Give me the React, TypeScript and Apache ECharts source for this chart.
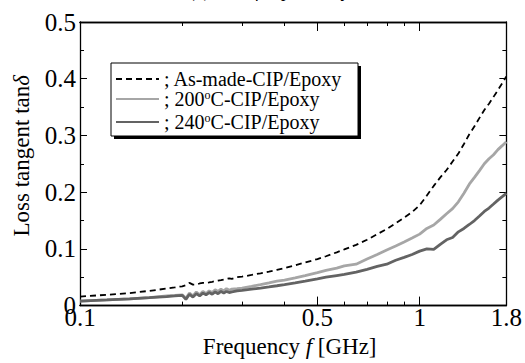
import React, { useEffect, useRef } from "react";
import * as echarts from "echarts";

const FREQ = [0.1, 0.12, 0.14, 0.16, 0.18, 0.19, 0.2, 0.205, 0.21, 0.215, 0.22, 0.225, 0.23, 0.235, 0.24, 0.245, 0.25, 0.255, 0.26, 0.265, 0.27, 0.275, 0.28, 0.29, 0.3, 0.32, 0.34, 0.36, 0.38, 0.4, 0.43, 0.46, 0.5, 0.53, 0.57, 0.6, 0.65, 0.7, 0.75, 0.8, 0.85, 0.9, 0.95, 1.0, 1.05, 1.1, 1.15, 1.2, 1.25, 1.3, 1.35, 1.4, 1.45, 1.5, 1.55, 1.6, 1.65, 1.7, 1.75, 1.8];

const AS_MADE = [0.016, 0.019, 0.022, 0.026, 0.030, 0.032, 0.034, 0.036, 0.040, 0.037, 0.037, 0.039, 0.040, 0.040, 0.041, 0.042, 0.043, 0.044, 0.045, 0.046, 0.047, 0.048, 0.047, 0.050, 0.051, 0.054, 0.057, 0.060, 0.063, 0.066, 0.071, 0.076, 0.082, 0.087, 0.094, 0.099, 0.107, 0.116, 0.126, 0.135, 0.145, 0.155, 0.165, 0.177, 0.194, 0.211, 0.226, 0.239, 0.254, 0.268, 0.285, 0.302, 0.316, 0.331, 0.345, 0.356, 0.368, 0.380, 0.392, 0.404];

const C200 = [0.008, 0.010, 0.012, 0.014, 0.017, 0.018, 0.019, 0.013, 0.022, 0.017, 0.024, 0.019, 0.025, 0.021, 0.026, 0.023, 0.028, 0.025, 0.029, 0.026, 0.030, 0.027, 0.029, 0.030, 0.031, 0.034, 0.037, 0.040, 0.043, 0.045, 0.049, 0.053, 0.058, 0.062, 0.066, 0.070, 0.073, 0.082, 0.090, 0.098, 0.105, 0.112, 0.119, 0.126, 0.136, 0.142, 0.152, 0.162, 0.171, 0.183, 0.198, 0.214, 0.226, 0.238, 0.250, 0.259, 0.266, 0.275, 0.282, 0.289];

const C240 = [0.008, 0.010, 0.012, 0.014, 0.016, 0.017, 0.018, 0.011, 0.020, 0.015, 0.021, 0.017, 0.022, 0.019, 0.023, 0.020, 0.024, 0.021, 0.025, 0.022, 0.025, 0.023, 0.024, 0.026, 0.027, 0.029, 0.031, 0.033, 0.035, 0.037, 0.040, 0.043, 0.047, 0.050, 0.053, 0.055, 0.059, 0.064, 0.069, 0.073, 0.080, 0.085, 0.090, 0.096, 0.100, 0.099, 0.108, 0.116, 0.120, 0.130, 0.136, 0.143, 0.150, 0.158, 0.166, 0.172, 0.179, 0.186, 0.192, 0.198];

const SERIES_NAMES = ["As-made-CIP/Epoxy", "200°C-CIP/Epoxy", "240°C-CIP/Epoxy"];
const X_LABELS = [0.1, 0.5, 1, 1.8];
const X_MAJOR = [0.5, 1];
const X_MINOR = [0.2, 0.3, 0.4, 0.6, 0.7, 0.8, 0.9];
const X_MIN = 0.1;
const X_MAX = 1.8;
const Y_MIN = 0;
const Y_MAX = 0.5;
const Y_STEP = 0.1;

const FONT = "'Liberation Serif', 'Times New Roman', serif";
const lg = (v: number) => Math.log10(v);

export default function App() {
  const ref = useRef<HTMLDivElement>(null);
  useEffect(() => {
    if (!ref.current) return;
    const chart = echarts.init(ref.current, null, { renderer: "svg" });
    const toPts = (vals: number[]) => FREQ.map((f, i) => [lg(f), vals[i]]);
    const lineColor = "#000";
    const baseX = {
      type: "value",
      min: lg(X_MIN),
      max: lg(X_MAX),
      splitLine: { show: false },
      axisLine: { show: true, onZero: false, lineStyle: { color: lineColor, width: 1.3 } },
    };
    const xAxes = [
      {
        ...baseX,
        position: "bottom",
        name: "Frequency {i|f} [GHz]",
        nameLocation: "middle",
        nameGap: 29,
        nameTextStyle: {
          fontFamily: FONT, fontSize: 23, color: "#000", padding: [0, 7, 0, 0],
          rich: { i: { fontFamily: FONT, fontSize: 23, fontStyle: "italic", color: "#000" } },
        },
        axisTick: { show: true, inside: true, length: 9, customValues: X_MAJOR.map(lg), lineStyle: { color: lineColor, width: 1 } },
        axisLabel: {
          show: true, customValues: X_LABELS.map(lg), margin: 1,
          fontFamily: FONT, fontSize: 25, color: "#000", lineHeight: 22,
          formatter: (v: number) => String(Math.round(Math.pow(10, v) * 10) / 10),
        },
      },
      {
        ...baseX,
        position: "bottom",
        axisTick: { show: true, inside: true, length: 4, customValues: X_MINOR.map(lg), lineStyle: { color: lineColor, width: 1 } },
        axisLabel: { show: false },
      },
      {
        ...baseX,
        position: "top",
        axisTick: { show: true, inside: true, length: 9, customValues: X_MAJOR.map(lg), lineStyle: { color: lineColor, width: 1 } },
        axisLabel: { show: false },
      },
      {
        ...baseX,
        position: "top",
        axisTick: { show: true, inside: true, length: 4, customValues: X_MINOR.map(lg), lineStyle: { color: lineColor, width: 1 } },
        axisLabel: { show: false },
      },
    ];
    const baseY = {
      type: "value",
      min: Y_MIN,
      max: Y_MAX,
      interval: Y_STEP,
      splitLine: { show: false },
      axisLine: { show: true, onZero: false, lineStyle: { color: lineColor, width: 1.3 } },
      axisTick: { show: true, inside: true, length: 7, lineStyle: { color: lineColor, width: 1 } },
      minorTick: { show: true, splitNumber: 2, length: 4, lineStyle: { color: lineColor, width: 1 } },
    };
    const option = {
      animation: false,
      backgroundColor: "#fff",
      grid: { left: 80, right: 14, top: 22, bottom: 55, containLabel: false },
      graphic: [
        { type: "text", left: 190, top: -18, style: { text: "(b) tanδ, f dependency", font: `italic 18px ${FONT}`, fill: "#000" } },
        { type: "rect", shape: { x: 114, y: 66, width: 247, height: 73 }, style: { fill: "#000" }, z: 5 },
        { type: "rect", shape: { x: 111, y: 63, width: 247, height: 73 }, style: { fill: "#fff", stroke: "#000", lineWidth: 1 }, z: 6 },
      ],
      legend: {
        orient: "vertical",
        left: 115,
        top: 69,
        z: 10,
        itemWidth: 43,
        itemHeight: 12,
        itemGap: 0,
        padding: 0,
        data: SERIES_NAMES,
        itemStyle: { color: "rgba(0,0,0,0)", borderWidth: 0, opacity: 0 },
        formatter: (name: string) => "; " + name.replace("°", "{sup|o}"),
        textStyle: {
          fontFamily: FONT, fontSize: 20, color: "#000", lineHeight: 20,
          rich: {
            sup: { fontFamily: FONT, fontSize: 12, color: "#000", verticalAlign: "top", lineHeight: 9, padding: [0, 0, 11, 0] },
          },
        },
      },
      xAxis: xAxes,
      yAxis: [
        {
          ...baseY,
          position: "left",
          name: "Loss tangent tan{i|δ}",
          nameLocation: "middle",
          nameGap: 47,
          nameTextStyle: {
            fontFamily: FONT, fontSize: 23, color: "#000", padding: [0, 0, 0, 16],
            rich: { i: { fontFamily: FONT, fontSize: 23, fontStyle: "italic", color: "#000" } },
          },
          axisLabel: {
            show: true, margin: 4, fontFamily: FONT, fontSize: 25, color: "#000",
            formatter: (v: number) => (v === 0 ? "0" : v.toFixed(1)),
          },
        },
        { ...baseY, position: "right", axisLabel: { show: false } },
      ],
      series: [
        {
          name: SERIES_NAMES[0], type: "line", xAxisIndex: 0, yAxisIndex: 0, symbol: "none",
          data: toPts(AS_MADE), lineStyle: { color: "#000", width: 1.8, type: [6, 4] }, itemStyle: { color: "#000" },
        },
        {
          name: SERIES_NAMES[1], type: "line", xAxisIndex: 0, yAxisIndex: 0, symbol: "none",
          data: toPts(C200), lineStyle: { color: "#a6a6a6", width: 2.8 }, itemStyle: { color: "#a6a6a6" },
        },
        {
          name: SERIES_NAMES[2], type: "line", xAxisIndex: 0, yAxisIndex: 0, symbol: "none",
          data: toPts(C240), lineStyle: { color: "#636363", width: 2.8 }, itemStyle: { color: "#636363" },
        },
      ],
    };
    chart.setOption(option as any);
    return () => chart.dispose();
  }, []);
  return (
    <div style={{ position: "fixed", left: 0, top: 0 }}>
      <div ref={ref} style={{ width: 525, height: 363 }} />
    </div>
  );
}
